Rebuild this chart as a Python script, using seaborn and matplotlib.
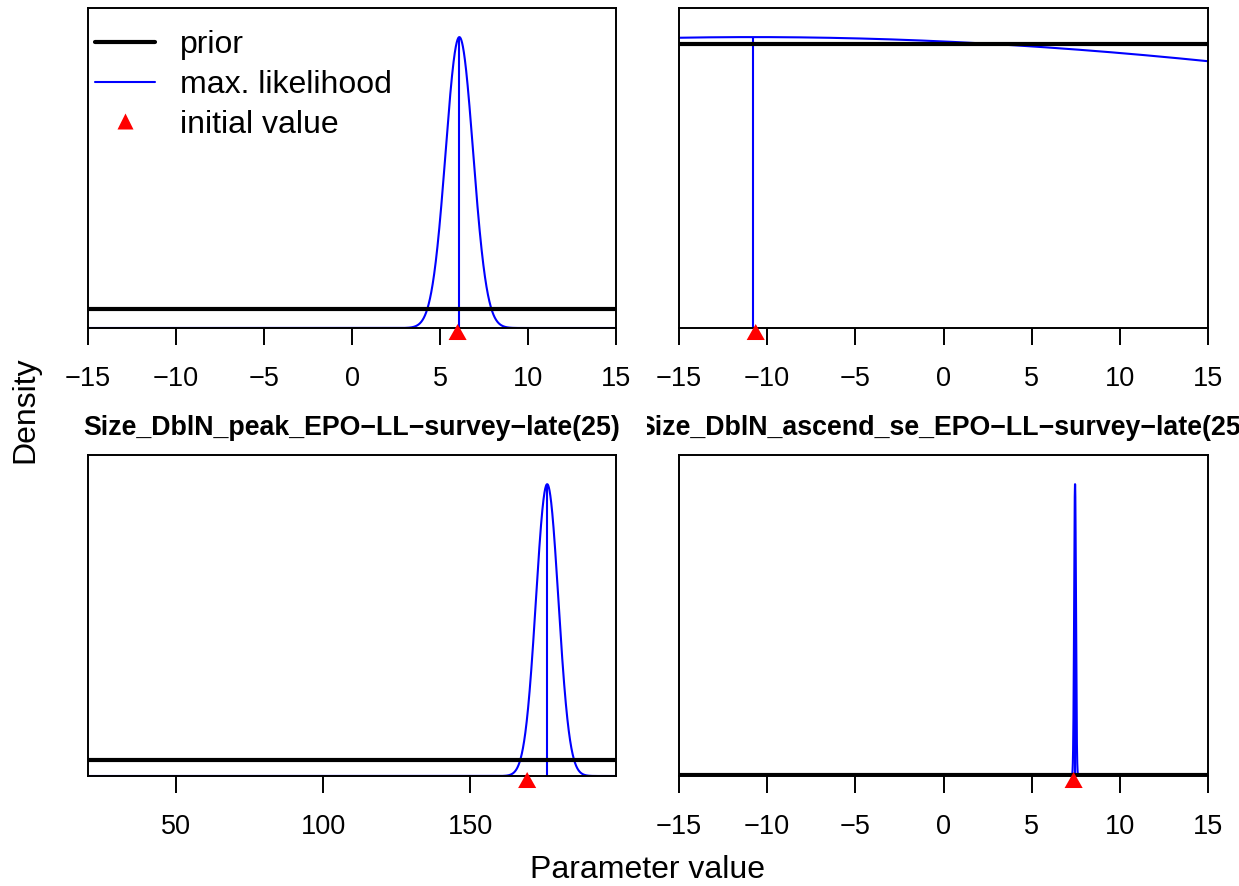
import numpy as np
import pandas as pd
import matplotlib
matplotlib.use("Agg")
import matplotlib.pyplot as plt
from matplotlib.lines import Line2D
from matplotlib.transforms import Bbox, TransformedBbox
import seaborn as sns

# ---------------------------
# Values (one entry per panel: TL, TR, BL, BR)
# ---------------------------
panel_titles = ["", "", "Size_DblN_peak_EPO−LL−survey−late(25)",
                "Size_DblN_ascend_se_EPO−LL−survey−late(25)"]
x_lo = [-15, -15, 20, -15]
x_hi = [15, 15, 199.5, 15]
mle_value = [6.1, -10.8, 176.1, 7.46]
mle_sd = [0.78, 62.0, 3.8, 0.05]
init_value = [6.0, -10.65, 169.3, 7.38]
prior_density = [0.0334, 0.00628, 0.0057, 0.0333]
x_ticks = [
    [-15, -10, -5, 0, 5, 10, 15],
    [-15, -10, -5, 0, 5, 10, 15],
    [50, 100, 150],
    [-15, -10, -5, 0, 5, 10, 15],
]

sns.set_theme(style="white")
plt.rcParams["font.family"] = ["Liberation Sans", "DejaVu Sans"]
plt.rcParams["axes.unicode_minus"] = True
plt.rcParams["text.color"] = "black"
plt.rcParams["xtick.color"] = "black"
plt.rcParams["xtick.labelcolor"] = "black"

W, H = 1239, 886
fig = plt.figure(figsize=(W / 100, H / 100), dpi=100)

# R-like filled triangle sitting slightly below its anchor point
tri = [(-1, -1.33), (1, -1.33), (0, 0.44), (-1, -1.33)]

# axes boxes in pixels: (left, top, right, bottom)
boxes = [(88, 8, 616, 328), (679, 8, 1208, 328),
         (88, 455, 616, 776), (679, 455, 1208, 776)]
clip_ranges = [(51, 645), (647, 1239), (51, 645), (647, 1239)]

for i, (l, t, r, b) in enumerate(boxes):
    ax = fig.add_axes([l / W, 1 - b / H, (r - l) / W, (b - t) / H])

    # normal likelihood curve around the estimate
    xs = np.linspace(x_lo[i], x_hi[i], 6001)
    dens = np.exp(-0.5 * ((xs - mle_value[i]) / mle_sd[i]) ** 2) / (mle_sd[i] * np.sqrt(2 * np.pi))
    curve = pd.DataFrame({"x": xs, "density": dens})
    peak = dens.max()

    sns.lineplot(data=curve, x="x", y="density", color="blue", lw=1.5,
                 estimator=None, sort=False, ax=ax, zorder=2)
    ax.vlines(mle_value[i], 0, peak, color="blue", lw=1.5, zorder=2)

    prior = pd.DataFrame({"x": [x_lo[i], x_hi[i]],
                          "density": [prior_density[i], prior_density[i]]})
    sns.lineplot(data=prior, x="x", y="density", color="black", lw=3,
                 estimator=None, ax=ax, zorder=3)

    sns.scatterplot(x=[init_value[i]], y=[0], marker=tri, s=300, color="red",
                    edgecolor="none", clip_on=False, zorder=6, ax=ax)

    ax.set_xlim(x_lo[i], x_hi[i])
    ax.set_ylim(0, 1.1 * max(peak, prior_density[i]))
    ax.set_xticks(x_ticks[i])
    ax.set_yticks([])
    ax.set_xlabel("")
    ax.set_ylabel("")
    ax.tick_params(axis="x", direction="out", length=12, width=1.4,
                   labelsize=19.5, pad=15, colors="black", bottom=True)
    for sp in ax.spines.values():
        sp.set_color("black")
        sp.set_linewidth(1.4)

    if panel_titles[i]:
        cx = (l + r) / 2 / W
        ty = 1 - (t - 27) / H
        txt = fig.text(cx, ty, panel_titles[i], ha="center", va="center",
                       fontsize=19.3, fontweight="bold")
        c0, c1 = clip_ranges[i]
        txt.set_clip_box(TransformedBbox(Bbox.from_extents(c0 / W, 0, c1 / W, 1),
                                         fig.transFigure))
        txt.set_clip_on(True)

    if i == 0:
        handles = [
            Line2D([], [], color="black", lw=3),
            Line2D([], [], color="blue", lw=1.5),
            Line2D([], [], color="red", marker="^", linestyle="None",
                   markersize=12, markeredgecolor="none"),
        ]
        ax.legend(handles, ["prior", "max. likelihood", "initial value"],
                  loc="upper left", bbox_to_anchor=(0.013, 0.93), frameon=False,
                  fontsize=23, handlelength=1.87, handletextpad=0.8,
                  labelspacing=0.3, borderpad=0, borderaxespad=0)

fig.text(25 / W, 1 - 410 / H, "Density", rotation=90, ha="center", va="center",
         fontsize=23)
fig.text(648 / W, 1 - 870 / H, "Parameter value", ha="center", va="center",
         fontsize=23)

fig.savefig("out.png", dpi=100, facecolor="white")
